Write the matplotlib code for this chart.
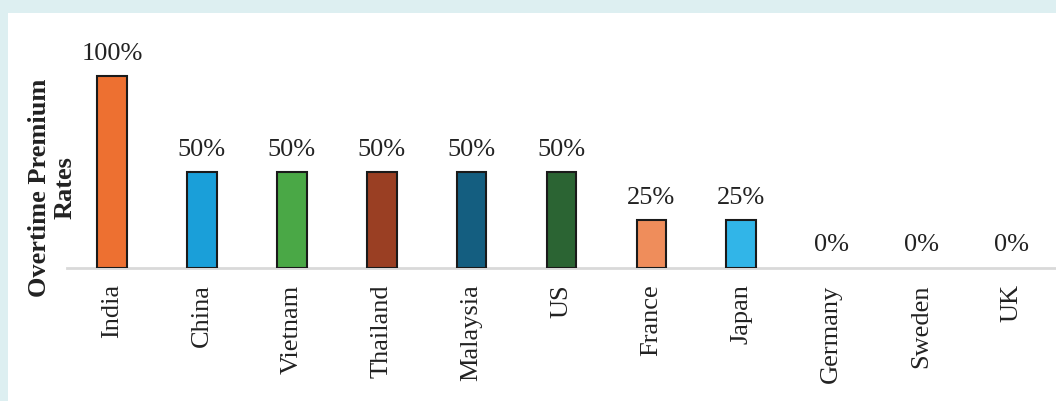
import numpy as np
import matplotlib.pyplot as plt
from matplotlib.patches import Rectangle

countries = ['India', 'China', 'Vietnam', 'Thailand', 'Malaysia', 'US',
             'France', 'Japan', 'Germany', 'Sweden', 'UK']
rates = [100, 50, 50, 50, 50, 50, 25, 25, 0, 0, 0]
bar_colors = ['#ed7031', '#1a9fd9', '#4aa846', '#9a3f23', '#145e80', '#2b6433',
              '#ef8d5b', '#31b5e8', '#888888', '#888888', '#888888']

plt.rcParams['font.family'] = ['Liberation Serif', 'DejaVu Serif']

fig = plt.figure(figsize=(10.56, 4.02), dpi=100)
fig.patch.set_facecolor('#ddeff1')
# white panel behind the chart
fig.patches.append(Rectangle((8 / 1056, 0), 1 - 8 / 1056, 1 - 14 / 402,
                             transform=fig.transFigure, facecolor='white',
                             edgecolor='none', zorder=-10))

ax = fig.add_axes([67 / 1056, 1 - 269 / 402, 989 / 1056, 239 / 402])
ax.set_facecolor('none')

x = np.arange(len(countries))
# zero-height bars get no outline so they stay invisible
edge_w = [1.5 if v > 0 else 0 for v in rates]
bars = ax.bar(x, rates, width=0.33, color=bar_colors, edgecolor='#1a1a1a',
              linewidth=edge_w, zorder=3)

for xi, v in zip(x, rates):
    ax.annotate(f'{v}%', (xi, v), xytext=(0, 9), textcoords='offset points',
                ha='center', va='bottom', fontsize=19, color='#222222')

ax.set_xlim(-0.5, len(countries) - 0.5)
ax.set_ylim(0, 124.5)
ax.set_xticks(x)
ax.set_xticklabels(countries, rotation=90, fontsize=19, color='#222222')
ax.tick_params(axis='x', length=0, pad=11)
ax.set_yticks([])

for s in ['top', 'right', 'left']:
    ax.spines[s].set_visible(False)
ax.spines['bottom'].set_color('#d9d9d9')
ax.spines['bottom'].set_linewidth(2)

fig.text(52 / 1056, 1 - 188 / 402, 'Overtime Premium\nRates', rotation=90,
         ha='center', va='center', fontsize=19, fontweight='bold',
         color='#222222', linespacing=1.15)

fig.savefig('out.png', dpi=100, facecolor=fig.get_facecolor())
